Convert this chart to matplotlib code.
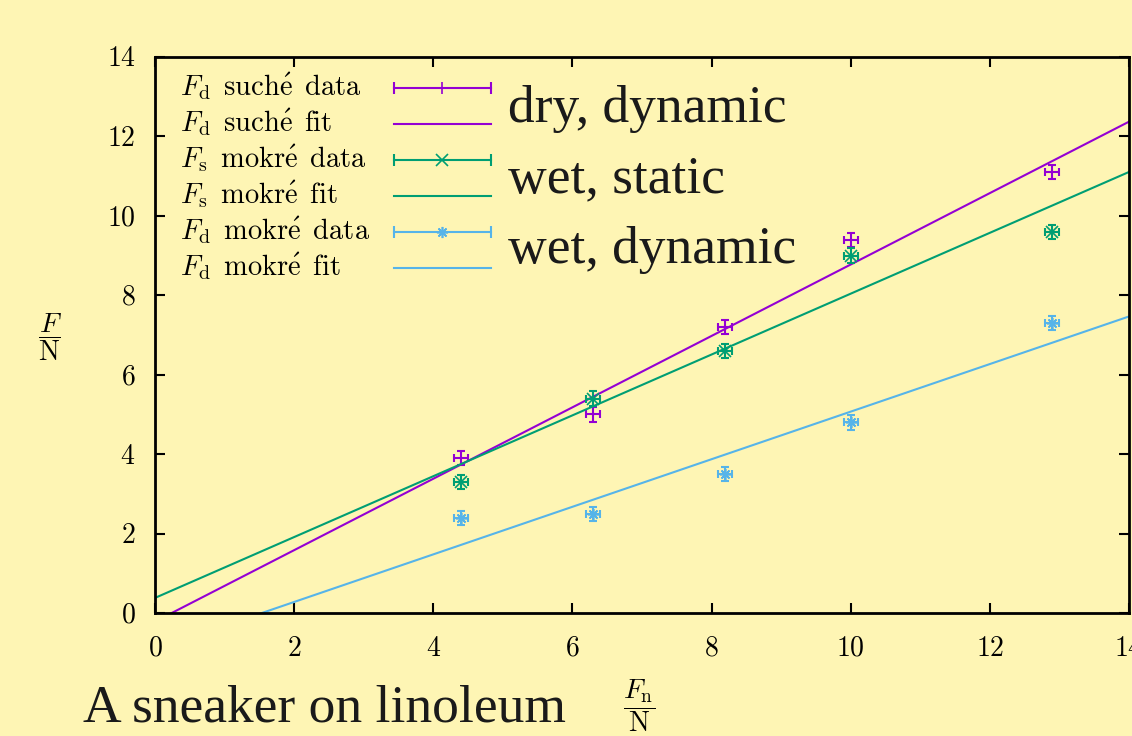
import numpy as np
import matplotlib
matplotlib.use("Agg")
import matplotlib.pyplot as plt
from matplotlib.lines import Line2D
from matplotlib.ticker import FuncFormatter

# normal force (N) and measured friction forces (N)
fn = [4.4, 6.3, 8.2, 10.0, 12.9]
fn_err = [0.1, 0.1, 0.1, 0.1, 0.1]
fd_dry = [3.9, 5.0, 7.2, 9.4, 11.1]
fs_wet = [3.3, 5.4, 6.6, 9.0, 9.6]
fd_wet = [2.4, 2.5, 3.5, 4.8, 7.3]
f_err = [0.18, 0.18, 0.18, 0.18, 0.18]

# linear fits: slope, intercept
fit_dry = (0.899, -0.216)
fit_s_wet = (0.766, 0.38)
fit_d_wet = (0.599, -0.92)

labels = [r"$F_\mathrm{d}\ \,\mathrm{such\acute{e}\ \,data}$", r"$F_\mathrm{d}\ \,\mathrm{such\acute{e}\ \,fit}$",
          r"$F_\mathrm{s}\ \,\mathrm{mokr\acute{e}\ \,data}$", r"$F_\mathrm{s}\ \,\mathrm{mokr\acute{e}\ \,fit}$",
          r"$F_\mathrm{d}\ \,\mathrm{mokr\acute{e}\ \,data}$", r"$F_\mathrm{d}\ \,\mathrm{mokr\acute{e}\ \,fit}$"]
notes = ["dry, dynamic", "wet, static", "wet, dynamic"]

purple = "#9400d3"
green = "#009e73"
blue = "#56b4e9"
bg = "#fef5b4"
ink = "#1a1a1a"

plt.rcParams["mathtext.fontset"] = "cm"
plt.rcParams["font.family"] = ["Liberation Serif", "DejaVu Serif"]

fig = plt.figure(figsize=(11.32, 7.36), dpi=100, facecolor=bg)
ax = fig.add_axes([0.1369, 0.1671, 0.8604, 0.7555], facecolor=bg)

xx = np.linspace(0, 14, 200)
series = [(fd_dry, fit_dry, purple, "+"), (fs_wet, fit_s_wet, green, "x"), (fd_wet, fit_d_wet, blue, (8, 2, 0))]
for y, (k, q), c, m in series:
    ax.errorbar(fn, y, xerr=fn_err, yerr=f_err, fmt="none", ecolor=c, elinewidth=1.5, capsize=3, capthick=1.5)
    ax.plot(fn, y, ls="none", marker=m, color=c, markersize=8, mew=1.2)
    ax.plot(xx, k * xx + q, color=c, lw=1.5)

ax.set_xlim(0, 14)
ax.set_ylim(0, 14)
ax.set_xticks(range(0, 15, 2))
ax.set_yticks(range(0, 15, 2))
fmt = FuncFormatter(lambda v, p: r"$%d$" % v)
ax.xaxis.set_major_formatter(fmt)
ax.yaxis.set_major_formatter(fmt)
ax.tick_params(direction="in", length=7.5, width=1.5, labelsize=20, top=True, right=True)
ax.tick_params(axis="x", pad=17)
ax.tick_params(axis="y", pad=14)
for s in ax.spines.values():
    s.set_linewidth(2)

fig.text(0.565, 0.041, r"$\dfrac{F_\mathrm{n}}{\mathrm{N}}$", fontsize=20, ha="center", va="center")
fig.text(0.0442, 0.542, r"$\dfrac{F}{\mathrm{N}}$", fontsize=20, ha="center", va="center")

# key: label on the left, sample on the right
row_h = 0.0647
for i, lab in enumerate(labels):
    yr = 0.9442 - i * row_h
    c = series[i // 2][2]
    ax.text(0.0257, yr - 0.0126, lab, transform=ax.transAxes, fontsize=20.5, ha="left", va="baseline")
    if i % 2 == 0:
        ax.add_line(Line2D([0.2454, 0.345], [yr, yr], transform=ax.transAxes, color=c, lw=1.5,
                           marker="|", markersize=8, mew=1.5, clip_on=False))
        ax.add_line(Line2D([0.2952], [yr], transform=ax.transAxes, color=c, ls="none",
                           marker=series[i // 2][3], markersize=8, mew=1.2, clip_on=False))
    else:
        ax.add_line(Line2D([0.2454, 0.345], [yr, yr], transform=ax.transAxes, color=c, lw=1.5))

for i, txt in enumerate(notes):
    ax.text(0.362, 0.907 - i * 0.127, txt, transform=ax.transAxes, fontsize=38.5, va="center", ha="left", color=ink)

fig.text(0.073, 0.038, "A sneaker on linoleum", fontsize=38.5, color=ink, va="center", ha="left")

fig.savefig("out.png", dpi=100, facecolor=bg)
